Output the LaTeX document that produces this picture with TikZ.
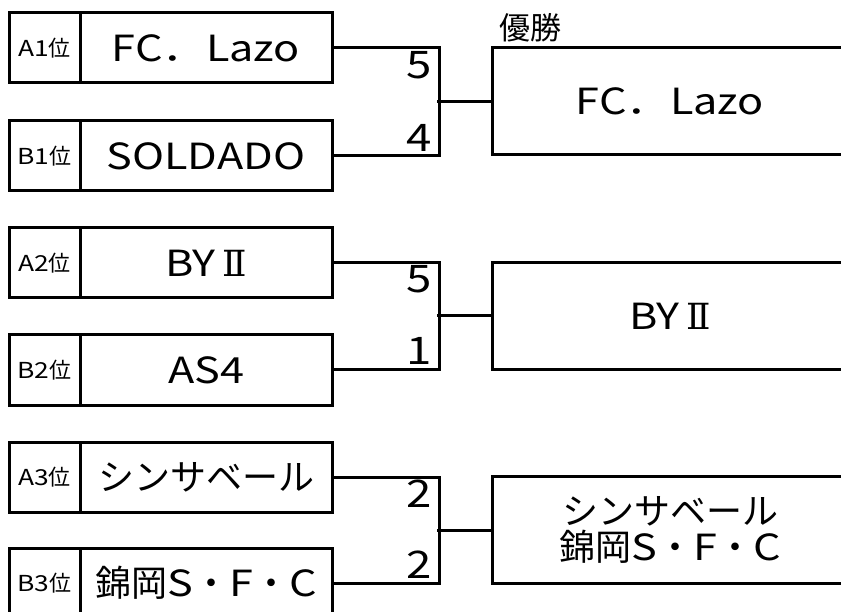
\documentclass[tikz,border=0pt]{standalone}
\usepackage{fontspec}
\setmainfont{Noto Sans CJK JP}
\newfontfamily\lat{Noto Sans CJK JP}[FakeStretch=1.2]
\newfontfamily\rnum{DejaVu Serif}
\newcommand{\RomTwo}{\hspace{0.18em}{\rnum Ⅱ}}
\newcommand{\NishiSFC}{錦岡{\lat S}・{\lat F}・{\lat C}}
\begin{document}
\begin{tikzpicture}[x=1pt,y=-1pt,
  box/.style={draw,line width=3pt,rectangle,inner sep=0pt},
  lab/.style={box,minimum width=71pt,minimum height=70pt,font=\fontsize{22}{24}\selectfont},
  team/.style={box,minimum width=252pt,minimum height=70pt,font=\fontsize{36}{40}\selectfont},
  win/.style={box,minimum width=356pt,minimum height=107pt,font=\fontsize{36}{40}\selectfont,align=center},
  score/.style={anchor=east,inner sep=0pt,font=\fontsize{38}{40}\selectfont\lat},
  conn/.style={line width=3pt}]
\useasboundingbox (0,0) rectangle (841,612);
\clip (0,0) rectangle (841,612);
% group 1
\node[lab]  (l1a) at (44.5,48) {{\lat A1}位};
\node[team] (t1a) at (206,48) {{\lat FC．Lazo}};
\node[lab]  (l1b) at (44.5,156) {{\lat B1}位};
\node[team] (t1b) at (206,156) {{\lat SOLDADO}};
\node[win]  (w1) at (670,101.5) {{\lat FC．Lazo}};
\node[anchor=base west,inner sep=0pt,font=\fontsize{31}{33}\selectfont] (yu) at (499,40) {優勝};
\node[score] (s1a) at (432,65) {5};
\node[score] (s1b) at (432,138) {4};
\draw[conn] (t1a.east) -- ++(106,0) |- (t1b.east);
\draw[conn] (w1.west) -- ++(-54,0);
% group 2
\node[lab]  (l2a) at (44.5,263) {{\lat A2}位};
\node[team] (t2a) at (206,263) {{\lat BY}\RomTwo};
\node[lab]  (l2b) at (44.5,370) {{\lat B2}位};
\node[team] (t2b) at (206,370) {{\lat AS4}};
\node[win]  (w2) at (670,316) {{\lat BY}\RomTwo};
\node[score] (s2a) at (432,279) {5};
\node[score] (s2b) at (432,351) {1};
\draw[conn] (t2a.east) -- ++(106,0) |- (t2b.east);
\draw[conn] (w2.west) -- ++(-54,0);
% group 3
\node[lab]  (l3a) at (44.5,477) {{\lat A3}位};
\node[team] (t3a) at (206,477) {シンサベール};
\node[lab]  (l3b) at (44.5,583) {{\lat B3}位};
\node[team] (t3b) at (206,583) {\NishiSFC};
\node[win]  (w3) at (670,530) {シンサベール\\[-4pt]\NishiSFC};
\node[score] (s3a) at (432,494) {2};
\node[score] (s3b) at (432,565) {2};
\draw[conn] (t3a.east) -- ++(106,0) |- (t3b.east);
\draw[conn] (w3.west) -- ++(-54,0);
\end{tikzpicture}
\end{document}
